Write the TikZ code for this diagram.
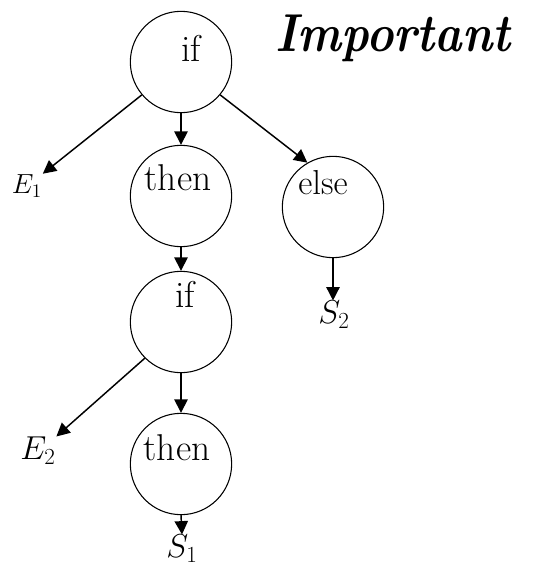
\documentclass[tikz,border=0pt]{standalone}
\usepackage{graphicx}
\usetikzlibrary{arrows.meta}
\begin{document}
\begin{tikzpicture}[
  x=0.75pt, y=-0.75pt,
  every node/.style={font=\fontsize{28}{30}\selectfont},
  knot/.style={circle,draw,line width=0.8pt,minimum size=76pt,inner sep=0pt},
  leaf/.style={inner sep=0pt},
  line width=1.1pt, ->, >={Triangle[length=10pt,width=10pt]}
]
  \useasboundingbox (0,0) rectangle (538,569);

  \node[knot] (if1)   at (181,62)  {};
  \node[knot] (then1) at (181,196) {};
  \node[knot] (else1) at (333,207) {};
  \node[knot] (if2)   at (181,322) {};
  \node[knot] (then2) at (181,464) {};

  \node (tif1)   at (191,48)  {if};
  \node (tthen1) at (178,178) {then};
  \node[font=\fontsize{26}{28}\selectfont] (telse1) at (323,183) {else};
  \node (tif2)   at (185,294) {if};
  \node (tthen2) at (177,448) {then};

  \node[leaf,font=\fontsize{20}{22}\selectfont] (e1) at (27,186)  {$E_1$};
  \node[leaf,font=\fontsize{27}{29}\selectfont] (e2) at (38,451)  {$E_2$};
  \node[leaf,font=\fontsize{24}{26}\selectfont] (s2) at (334,315) {$S_2$};
  \node[leaf,font=\fontsize{26}{28}\selectfont] (s1) at (182,549) {$S_1$};

  \draw (if1.220) -- (e1.north east);
  \draw (if1.south) -- (then1.north);
  \draw (if1.-40) -- (else1.120);
  \draw (then1.south) -- (if2.north);
  \draw (else1.south) -- (else1.south |- s2.north);
  \draw (if2.225) -- (e2.north east);
  \draw (if2.south) -- (then2.north);
  \draw (then2.south) -- (s1.north);

  \node[font=\bfseries\itshape\fontsize{40}{42}\selectfont] (imp) at (393,38) {\scalebox{0.87}[1]{Important}};
\end{tikzpicture}
\end{document}
